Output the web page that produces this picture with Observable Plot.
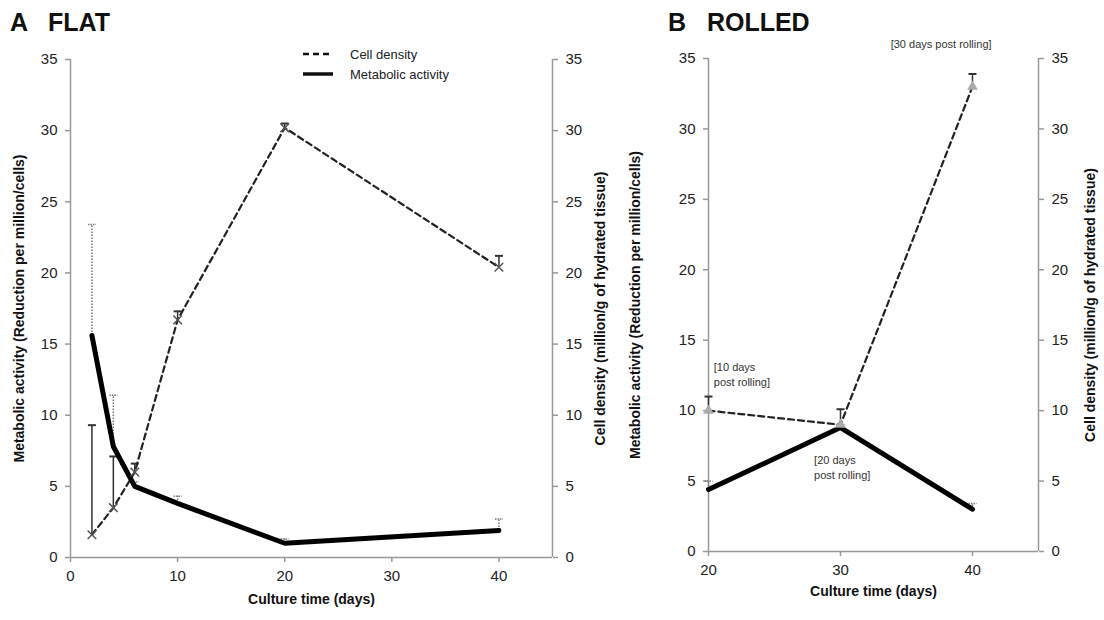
<!DOCTYPE html>
<html>
<head>
<meta charset="utf-8">
<script src="https://cdn.jsdelivr.net/npm/d3@7"></script>
<script src="https://cdn.jsdelivr.net/npm/@observablehq/plot@0.6"></script>
<style>
  body { margin:0; width:1104px; height:620px; position:relative; background:#fff; font-family:"Liberation Sans", Arial, sans-serif; color:#222; overflow:hidden; }
  .title { position:absolute; font-weight:bold; font-size:25px; white-space:pre; color:#111; }
  .panel { position:absolute; }
  .panel svg { overflow:visible; }
  g[aria-label="x-axis label"] text, g[aria-label="y-axis label"] text { font-weight:bold; font-size:14px; fill:#111; }
  g[aria-label="x-axis tick"] path, g[aria-label="y-axis tick"] path { stroke:#999; stroke-width:1.5; }
  .legend { position:absolute; left:302px; top:44px; font-size:13px; color:#222; }
  .legend div { display:flex; align-items:center; height:20px; }
  .legend svg { margin-right:16px; }
</style>
</head>
<body>
<div class="title" style="left:10px;top:8px">A   FLAT</div>
<div class="title" style="left:668px;top:8px">B   ROLLED</div>
<div id="A" class="panel" style="left:0;top:40px"></div>
<div id="B" class="panel" style="left:615px;top:40px"></div>
<div class="legend">
  <div><svg width="32" height="6"><line x1="1" y1="3" x2="31" y2="3" stroke="#111" stroke-width="2.5" stroke-dasharray="6,4"/></svg>Cell density</div>
  <div><svg width="32" height="6"><line x1="1" y1="3" x2="31" y2="3" stroke="#111" stroke-width="3.5"/></svg>Metabolic activity</div>
</div>
<script>
// ---- Data ----
const yTicks = [0, 5, 10, 15, 20, 25, 30, 35];
const xTicksA = [0, 10, 20, 30, 40];
const xTicksB = [20, 30, 40];

// Panel A (flat)
const daysA = [2, 4, 6, 10, 20, 40];
const metabA = [15.6, 7.8, 5.0, 3.8, 1.0, 1.9];
const metabA_hi = [23.4, 11.4, 5.3, 4.3, 1.3, 2.7];
const cellA = [1.6, 3.5, 6.0, 16.7, 30.2, 20.4];
const cellA_hi = [9.3, 7.1, 6.6, 17.3, 30.5, 21.2];

// Panel B (rolled)
const daysB = [20, 30, 40];
const metabB = [4.4, 8.8, 3.0];
const metabB_hi = [5.0, 9.0, 3.4];
const cellB = [10.0, 9.0, 33.0];
const cellB_hi = [11.0, 10.1, 33.9];
const noteX = [20.4, 28.0, 33.8];
const noteY = [12.6, 6.0, 36.1];
const noteText = ["[10 days\npost rolling]", "[20 days\npost rolling]", "[30 days post rolling]"];

const tableA = daysA.map((d, i) => ({x: d, m: metabA[i], mh: metabA_hi[i], c: cellA[i], ch: cellA_hi[i]}));
const tableB = daysB.map((d, i) => ({x: d, m: metabB[i], mh: metabB_hi[i], c: cellB[i], ch: cellB_hi[i]}));
const notesB = noteText.map((t, i) => ({x: noteX[i], y: noteY[i], text: t}));

const cap = {draw(ctx, size) { const w = Math.sqrt(size / Math.PI); ctx.moveTo(-w, 0); ctx.lineTo(w, 0); }};

function panel(table, opts) {
  const marks = [
    Plot.ruleY([0], {stroke: "#999", strokeWidth: 1.5}),
    Plot.ruleX([opts.xd[0]], {stroke: "#999", strokeWidth: 1.5}),
    Plot.ruleX([opts.xd[1]], {stroke: "#999", strokeWidth: 1.5}),
    Plot.axisX({ticks: opts.xt, tickSize: 5, tickPadding: 8, fontSize: 15, label: "Culture time (days)", labelAnchor: "center", labelArrow: "none", labelOffset: opts.xlo}),
    Plot.axisY({ticks: yTicks, tickSize: 5, tickPadding: 8, fontSize: 15, anchor: "left", label: "Metabolic activity (Reduction per million/cells)", labelAnchor: "center", labelArrow: "none", labelOffset: opts.llo}),
    Plot.axisY({ticks: yTicks, tickSize: 5, tickPadding: 8, fontSize: 15, anchor: "right", label: "Cell density (million/g of hydrated tissue)", labelAnchor: "center", labelArrow: "none", labelOffset: opts.rlo}),
    // metabolic error bars (dotted)
    Plot.ruleX(table, {x: "x", y1: "m", y2: "mh", stroke: "#777", strokeWidth: 1.5, strokeDasharray: "1.5,1.5"}),
    Plot.dot(table, {x: "x", y: "mh", symbol: cap, r: 4, stroke: "#777", strokeWidth: 1.5, strokeDasharray: "1.5,1"}),
    // cell density error bars (solid)
    Plot.ruleX(table, {x: "x", y1: "c", y2: "ch", stroke: "#333", strokeWidth: 1.5}),
    Plot.dot(table, {x: "x", y: "ch", symbol: cap, r: 4, stroke: "#333", strokeWidth: 2}),
    // lines
    Plot.line(table, {x: "x", y: "c", stroke: "#222", strokeWidth: 2.2, strokeDasharray: "6,4"}),
    Plot.line(table, {x: "x", y: "m", stroke: "#000", strokeWidth: 5}),
    opts.cellMarker === "triangle"
      ? Plot.dot(table, {x: "x", y: "c", symbol: "triangle", r: 4, fill: "#aaa", stroke: "none"})
      : Plot.dot(table, {x: "x", y: "c", symbol: "times", r: 4, stroke: "#555", strokeWidth: 1.5})
  ];
  if (opts.notes) {
    marks.push(Plot.text(opts.notes, {x: "x", y: "y", text: "text", textAnchor: "start", fontSize: 11, fill: "#333", lineHeight: 1.35}));
  }
  return Plot.plot({
    width: opts.w, height: 580,
    marginLeft: opts.ml, marginRight: opts.mr, marginTop: opts.mt, marginBottom: opts.mb,
    x: {domain: opts.xd},
    y: {domain: [0, 35]},
    style: {fontFamily: '"Liberation Sans", Arial, sans-serif', color: "#222", background: "transparent", overflow: "visible"},
    marks
  });
}

document.getElementById("A").append(panel(tableA, {
  w: 615, ml: 70, mr: 63, mt: 19, mb: 63, xd: [0, 45], xt: xTicksA, xlo: 46, llo: 56, rlo: 52, cellMarker: "times"
}));
document.getElementById("B").append(panel(tableB, {
  w: 489, ml: 93, mr: 66, mt: 18, mb: 69, xd: [20, 45], xt: xTicksB, xlo: 44, llo: 78, rlo: 56, cellMarker: "triangle", notes: notesB
}));
</script>
</body>
</html>
